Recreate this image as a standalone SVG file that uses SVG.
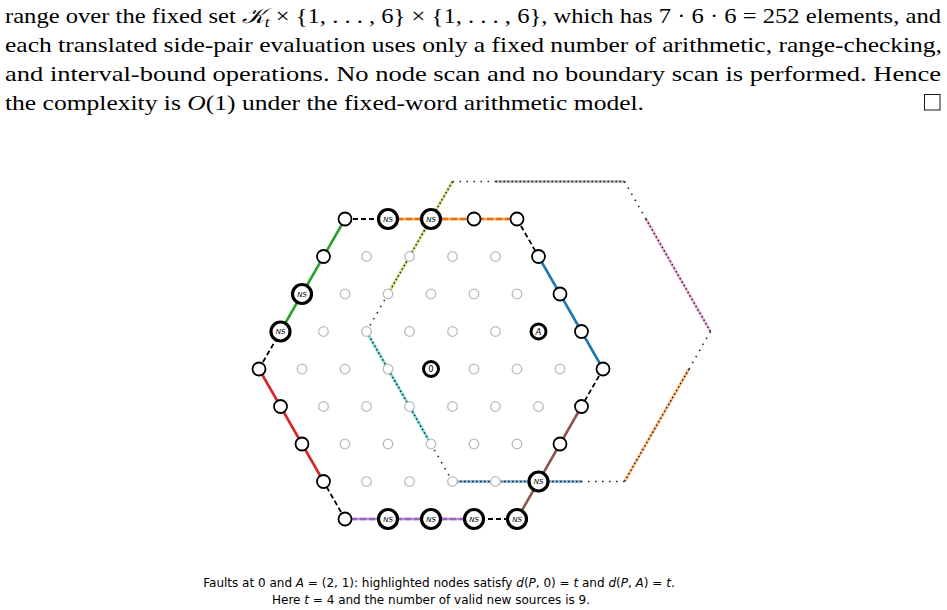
<svg xmlns="http://www.w3.org/2000/svg" width="947" height="610" viewBox="0 0 947 610">
<style>
.body{font-family:"Liberation Serif","Times New Roman",serif;font-size:21.5px;fill:#000}
.it{font-style:italic}
.cap{font-family:"DejaVu Sans",sans-serif;font-size:12px;fill:#000}
.dash{stroke:#000;stroke-width:1.8;stroke-dasharray:5 3;fill:none}
.side{stroke-width:2.6;fill:none;stroke-linecap:butt}
.under{stroke-width:3;fill:none;opacity:0.5}
.dotS{stroke:#222;stroke-width:1.6;stroke-dasharray:1.5 5.5;fill:none}
.dotD{stroke:#222;stroke-width:1.5;stroke-dasharray:1.5 2.5;fill:none}
.bn{fill:#fff;stroke:#000;stroke-width:1.8}
.ns{fill:#fff;stroke:#000;stroke-width:3.2}
.gn{fill:#fff;stroke:#bbb;stroke-width:1.3}
.sp{fill:#fff;stroke:#000;stroke-width:3}
.nst{font-family:"DejaVu Sans",sans-serif;font-size:7px;font-style:italic;text-anchor:middle;fill:#000}
.spt{font-family:"DejaVu Sans",sans-serif;font-size:8.5px;text-anchor:middle;fill:#000}
</style>
<rect width="947" height="610" fill="#fff"/>
<g id="text-body">
<text class="body" x="5" y="23" textLength="936" lengthAdjust="spacingAndGlyphs">range over the fixed set <tspan class="it">𝒦</tspan><tspan class="it" font-size="15" dy="4">t</tspan><tspan dy="-4"> × {1, . . . , 6} × {1, . . . , 6}, which has 7 · 6 · 6 = 252 elements, and</tspan></text>
<text class="body" x="5" y="52" textLength="937" lengthAdjust="spacingAndGlyphs">each translated side-pair evaluation uses only a fixed number of arithmetic, range-checking,</text>
<text class="body" x="5" y="81" textLength="936" lengthAdjust="spacingAndGlyphs">and interval-bound operations.  No node scan and no boundary scan is performed.  Hence</text>
<text class="body" x="5" y="110" textLength="639" lengthAdjust="spacingAndGlyphs">the complexity is <tspan class="it">O</tspan>(1) under the fixed-word arithmetic model.</text>
<rect x="924.5" y="94.5" width="15.5" height="15.5" fill="none" stroke="#000" stroke-width="0.9"/>
</g>
<g id="connectors">
<line class="under" stroke="#7f7f7f" x1="495.5" y1="181.5" x2="624.5" y2="181.5"/>
<line class="dotS" x1="452.5" y1="181.5" x2="495.5" y2="181.5"/>
<line class="dotD" x1="495.5" y1="181.5" x2="624.5" y2="181.5"/>
<line class="under" stroke="#e377c2" x1="646" y1="219" x2="710.5" y2="331.5"/>
<line class="dotS" x1="624.5" y1="181.5" x2="646" y2="219"/>
<line class="dotD" x1="646" y1="219" x2="710.5" y2="331.5"/>
<line class="under" stroke="#ff7f0e" x1="689" y1="369" x2="624.5" y2="481.5"/>
<line class="dotS" x1="710.5" y1="331.5" x2="689" y2="369"/>
<line class="dotD" x1="689" y1="369" x2="624.5" y2="481.5"/>
<line class="under" stroke="#1f77b4" x1="581.5" y1="481.5" x2="452.5" y2="481.5"/>
<line class="dotS" x1="624.5" y1="481.5" x2="581.5" y2="481.5"/>
<line class="dotD" x1="581.5" y1="481.5" x2="452.5" y2="481.5"/>
<line class="under" stroke="#17becf" x1="431" y1="444" x2="366.5" y2="331.5"/>
<line class="dotS" x1="452.5" y1="481.5" x2="431" y2="444"/>
<line class="dotD" x1="431" y1="444" x2="366.5" y2="331.5"/>
<line class="under" stroke="#bcbd22" x1="388" y1="294" x2="452.5" y2="181.5"/>
<line class="dotS" x1="366.5" y1="331.5" x2="388" y2="294"/>
<line class="dotD" x1="388" y1="294" x2="452.5" y2="181.5"/>
<line class="dash" x1="345" y1="219" x2="388" y2="219"/>
<line class="dash" x1="517" y1="219" x2="538.5" y2="256.5"/>
<line class="dash" x1="603" y1="369" x2="581.5" y2="406.5"/>
<line class="dash" x1="517" y1="519" x2="474" y2="519"/>
<line class="dash" x1="345" y1="519" x2="323.5" y2="481.5"/>
<line class="dash" x1="259" y1="369" x2="280.5" y2="331.5"/>
<line class="side" stroke="#ff7f0e" opacity="0.75" x1="388" y1="219" x2="517" y2="219"/>
<line class="side" stroke="#e8700a" stroke-dasharray="6 3" x1="388" y1="219" x2="517" y2="219"/>
<line class="side" stroke="#1f77b4" x1="538.5" y1="256.5" x2="603" y2="369"/>
<line class="side" stroke="#8c564b" x1="581.5" y1="406.5" x2="517" y2="519"/>
<line class="side" stroke="#9467bd" opacity="0.75" x1="474" y1="519" x2="345" y2="519"/>
<line class="side" stroke="#9467bd" stroke-dasharray="6 3" x1="474" y1="519" x2="345" y2="519"/>
<line class="side" stroke="#d62728" x1="323.5" y1="481.5" x2="259" y2="369"/>
<line class="side" stroke="#2ca02c" x1="280.5" y1="331.5" x2="345" y2="219"/>
</g>
<g id="interior">
<circle class="gn" cx="366.5" cy="256.5" r="4.8"/><circle class="gn" cx="409.5" cy="256.5" r="4.8"/><circle class="gn" cx="452.5" cy="256.5" r="4.8"/><circle class="gn" cx="495.5" cy="256.5" r="4.8"/>
<circle class="gn" cx="345" cy="294" r="4.8"/><circle class="gn" cx="388" cy="294" r="4.8"/><circle class="gn" cx="431" cy="294" r="4.8"/><circle class="gn" cx="474" cy="294" r="4.8"/><circle class="gn" cx="517" cy="294" r="4.8"/>
<circle class="gn" cx="323.5" cy="331.5" r="4.8"/><circle class="gn" cx="366.5" cy="331.5" r="4.8"/><circle class="gn" cx="409.5" cy="331.5" r="4.8"/><circle class="gn" cx="452.5" cy="331.5" r="4.8"/><circle class="gn" cx="495.5" cy="331.5" r="4.8"/>
<circle class="gn" cx="302" cy="369" r="4.8"/><circle class="gn" cx="345" cy="369" r="4.8"/><circle class="gn" cx="388" cy="369" r="4.8"/><circle class="gn" cx="474" cy="369" r="4.8"/><circle class="gn" cx="517" cy="369" r="4.8"/><circle class="gn" cx="560" cy="369" r="4.8"/>
<circle class="gn" cx="323.5" cy="406.5" r="4.8"/><circle class="gn" cx="366.5" cy="406.5" r="4.8"/><circle class="gn" cx="409.5" cy="406.5" r="4.8"/><circle class="gn" cx="452.5" cy="406.5" r="4.8"/><circle class="gn" cx="495.5" cy="406.5" r="4.8"/><circle class="gn" cx="538.5" cy="406.5" r="4.8"/>
<circle class="gn" cx="345" cy="444" r="4.8"/><circle class="gn" cx="388" cy="444" r="4.8"/><circle class="gn" cx="431" cy="444" r="4.8"/><circle class="gn" cx="474" cy="444" r="4.8"/><circle class="gn" cx="517" cy="444" r="4.8"/>
<circle class="gn" cx="366.5" cy="481.5" r="4.8"/><circle class="gn" cx="409.5" cy="481.5" r="4.8"/><circle class="gn" cx="452.5" cy="481.5" r="4.8"/><circle class="gn" cx="495.5" cy="481.5" r="4.8"/>
</g>
<g id="fault-0"><circle class="sp" cx="431" cy="369" r="7.5"/><text class="spt" x="431" y="372">0</text></g>
<g id="fault-A"><circle class="sp" cx="538.5" cy="331.5" r="7.5"/><text class="spt" x="538.5" y="334.5" font-style="italic">A</text></g>
<g id="boundary">
<circle class="bn" cx="345" cy="219" r="6.5"/>
<g id="ns1"><circle class="ns" cx="388" cy="219" r="9.5"/><text class="nst" x="388" y="221.5">NS</text></g>
<g id="ns2"><circle class="ns" cx="431" cy="219" r="9.5"/><text class="nst" x="431" y="221.5">NS</text></g>
<circle class="bn" cx="474" cy="219" r="6.5"/>
<circle class="bn" cx="517" cy="219" r="6.5"/>
<circle class="bn" cx="538.5" cy="256.5" r="6.5"/>
<circle class="bn" cx="560" cy="294" r="6.5"/>
<circle class="bn" cx="581.5" cy="331.5" r="6.5"/>
<circle class="bn" cx="603" cy="369" r="6.5"/>
<circle class="bn" cx="581.5" cy="406.5" r="6.5"/>
<circle class="bn" cx="560" cy="444" r="6.5"/>
<g id="ns3"><circle class="ns" cx="538.5" cy="481.5" r="9.5"/><text class="nst" x="538.5" y="484">NS</text></g>
<g id="ns4"><circle class="ns" cx="517" cy="519" r="9.5"/><text class="nst" x="517" y="521.5">NS</text></g>
<g id="ns5"><circle class="ns" cx="474" cy="519" r="9.5"/><text class="nst" x="474" y="521.5">NS</text></g>
<g id="ns6"><circle class="ns" cx="431" cy="519" r="9.5"/><text class="nst" x="431" y="521.5">NS</text></g>
<g id="ns7"><circle class="ns" cx="388" cy="519" r="9.5"/><text class="nst" x="388" y="521.5">NS</text></g>
<circle class="bn" cx="345" cy="519" r="6.5"/>
<circle class="bn" cx="323.5" cy="481.5" r="6.5"/>
<circle class="bn" cx="302" cy="444" r="6.5"/>
<circle class="bn" cx="280.5" cy="406.5" r="6.5"/>
<circle class="bn" cx="259" cy="369" r="6.5"/>
<g id="ns8"><circle class="ns" cx="280.5" cy="331.5" r="9.5"/><text class="nst" x="280.5" y="334">NS</text></g>
<g id="ns9"><circle class="ns" cx="302" cy="294" r="9.5"/><text class="nst" x="302" y="296.5">NS</text></g>
<circle class="bn" cx="323.5" cy="256.5" r="6.5"/>
</g>
<g id="caption">
<text class="cap" x="439" y="587" text-anchor="middle">Faults at 0 and <tspan font-style="italic">A</tspan> = (2, 1): highlighted nodes satisfy <tspan font-style="italic">d</tspan>(<tspan font-style="italic">P</tspan>, 0) = <tspan font-style="italic">t</tspan> and <tspan font-style="italic">d</tspan>(<tspan font-style="italic">P</tspan>, <tspan font-style="italic">A</tspan>) = <tspan font-style="italic">t</tspan>.</text>
<text class="cap" x="431" y="604" text-anchor="middle">Here <tspan font-style="italic">t</tspan> = 4 and the number of valid new sources is 9.</text>
</g>
</svg>
